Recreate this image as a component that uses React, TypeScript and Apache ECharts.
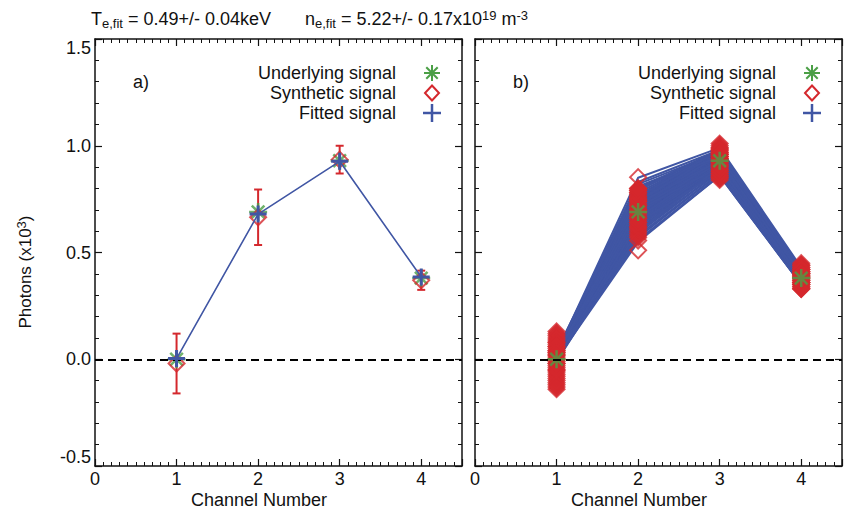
import React, { useEffect, useRef } from 'react';
import * as echarts from 'echarts';

// ---- data -------------------------------------------------------------
const channels = [1, 2, 3, 4];

// panel a) single realisation
const underlying = [0.0, 0.69, 0.93, 0.38];
const syntheticA = [-0.02, 0.665, 0.935, 0.37];
const syntheticErrA = [0.14, 0.13, 0.065, 0.045];
const fittedA = [0.003, 0.68, 0.927, 0.385];

// panel b) Monte-Carlo realisations: fitted signal per channel (one row per run)
const mcFitted = [
  [0.01, 0.70, 0.93, 0.39],
  [0.00, 0.66, 0.92, 0.38],
  [0.02, 0.74, 0.95, 0.40],
  [-0.01, 0.63, 0.90, 0.37],
  [0.01, 0.72, 0.94, 0.40],
  [0.03, 0.78, 0.97, 0.41],
  [0.00, 0.68, 0.91, 0.38],
  [0.02, 0.76, 0.96, 0.41],
  [0.01, 0.61, 0.89, 0.36],
  [0.00, 0.71, 0.94, 0.39],
  [0.04, 0.80, 0.98, 0.42],
  [0.01, 0.65, 0.91, 0.37],
  [0.02, 0.69, 0.93, 0.39],
  [-0.01, 0.59, 0.88, 0.36],
  [0.01, 0.73, 0.95, 0.40],
  [0.02, 0.67, 0.92, 0.38],
  [0.00, 0.75, 0.96, 0.40],
  [0.03, 0.82, 0.97, 0.42],
  [0.01, 0.64, 0.90, 0.37],
  [0.02, 0.70, 0.92, 0.39],
  [0.00, 0.57, 0.87, 0.35],
  [0.01, 0.77, 0.97, 0.41],
  [0.02, 0.62, 0.89, 0.37],
  [0.01, 0.72, 0.93, 0.39],
  [0.03, 0.85, 0.99, 0.43],
  [0.00, 0.55, 0.86, 0.35],
  [0.01, 0.68, 0.93, 0.38],
  [0.02, 0.74, 0.94, 0.40],
  [0.00, 0.66, 0.90, 0.38],
  [0.02, 0.79, 0.98, 0.41],
  [0.01, 0.60, 0.88, 0.36],
  [0.01, 0.71, 0.95, 0.39],
  [0.00, 0.64, 0.91, 0.38],
  [0.02, 0.76, 0.95, 0.40],
  [0.01, 0.69, 0.92, 0.39],
  [0.03, 0.81, 0.96, 0.42],
  [0.01, 0.67, 0.91, 0.38],
  [0.02, 0.73, 0.94, 0.40],
  [0.00, 0.62, 0.90, 0.37],
  [0.03, 0.77, 0.96, 0.41],
  [0.01, 0.70, 0.94, 0.39],
  [0.02, 0.58, 0.87, 0.36],
  [0.00, 0.75, 0.95, 0.40],
  [0.01, 0.65, 0.92, 0.38],
  [0.02, 0.83, 0.98, 0.42],
  [0.01, 0.69, 0.91, 0.39],
  [0.00, 0.72, 0.96, 0.40],
  [0.03, 0.63, 0.89, 0.37],
  [0.01, 0.78, 0.97, 0.41],
  [0.02, 0.66, 0.93, 0.38],
  [0.00, 0.71, 0.92, 0.39],
  [0.01, 0.60, 0.90, 0.36],
  [0.02, 0.74, 0.97, 0.41],
  [0.01, 0.68, 0.94, 0.39],
  [0.03, 0.80, 0.95, 0.42],
  [0.00, 0.64, 0.88, 0.37],
  [0.01, 0.76, 0.98, 0.40],
  [0.02, 0.70, 0.90, 0.38],
  [0.01, 0.56, 0.86, 0.35],
  [0.02, 0.73, 0.93, 0.40],
];

// panel b) synthetic signal per channel
const mcSynthCh1 = [0.02, -0.05, 0.08, -0.11, 0.04, 0.12, -0.02, 0.06, -0.08, 0.0, 0.10, -0.13, 0.03, -0.06, 0.07, -0.03, 0.13, -0.09, 0.01, 0.05, -0.14, 0.09, -0.04, 0.11, -0.07, 0.02, -0.10, 0.06, -0.01, 0.04, -0.12, 0.08, -0.05, 0.03, -0.02, 0.0];
const mcSynthCh2 = [0.70, 0.64, 0.76, 0.60, 0.73, 0.79, 0.67, 0.75, 0.58, 0.71, 0.80, 0.62, 0.69, 0.57, 0.74, 0.66, 0.77, 0.78, 0.63, 0.72, 0.59, 0.76, 0.61, 0.68, 0.80, 0.65, 0.70, 0.74, 0.66, 0.78, 0.62, 0.72, 0.64, 0.75, 0.69, 0.79];
const mcSynthCh3 = [0.93, 0.88, 0.97, 0.85, 0.95, 1.00, 0.90, 0.96, 0.86, 0.92, 0.99, 0.87, 0.94, 0.84, 0.98, 0.91, 1.01, 0.89, 0.93, 0.96, 0.85, 0.97, 0.90, 0.95, 0.88, 0.92, 0.99, 0.86, 0.94, 0.91, 0.98, 0.87, 0.93, 0.95, 0.89, 0.96];
const mcSynthCh4 = [0.38, 0.35, 0.41, 0.33, 0.40, 0.44, 0.36, 0.42, 0.34, 0.39, 0.45, 0.37, 0.40, 0.33, 0.43, 0.36, 0.41, 0.35, 0.38, 0.42, 0.34, 0.39, 0.44, 0.37, 0.40, 0.36, 0.43, 0.35, 0.38, 0.41, 0.33, 0.39, 0.42, 0.37, 0.40, 0.36];
// isolated channel-2 realisations drawn as open diamonds
const mcSynthCh2Isolated = [0.853, 0.556, 0.51];

const legendLabels = ['Underlying signal', 'Synthetic signal', 'Fitted signal'];

// ---- styling ------------------------------------------------------------
const INK = '#111111';
const GREEN = '#4b9f46';
const RED = '#d4282d';
const BLUE = '#4056a4';
const FONT = '"Liberation Sans", Arial, Helvetica, sans-serif';
const FS = 18;

const ASTERISK = 'path://M0,-10L0,10M-10,0L10,0M-7,-7L7,7M-7,7L7,-7';
const PLUS = 'path://M-10,0L10,0M0,-10L0,10';
const DIAMOND = 'path://M0,-10L10,0L0,10L-10,0Z';

const GRID_TOP = 39;
const GRID_H = 427;
const GRID_W = 367;
const PANEL_LEFT = [95, 475];

const xMajor = (gridIndex: number, position: string, showLabels: boolean) => ({
  type: 'value',
  gridIndex,
  position,
  min: 0,
  max: 4.5,
  interval: 1,
  axisLine: { show: true, onZero: false, lineStyle: { color: INK, width: 1.5 } },
  axisTick: { show: true, inside: true, length: 7, lineStyle: { color: INK, width: 1.2 } },
  axisLabel: {
    show: showLabels,
    margin: 4,
    fontSize: FS,
    color: INK,
    fontFamily: FONT,
    formatter: (v: number) => (Number.isInteger(v) ? String(v) : ''),
  },
  splitLine: { show: false },
});

const xMinor = (gridIndex: number, position: string) => ({
  type: 'value',
  gridIndex,
  position,
  min: 0,
  max: 4.5,
  interval: 0.1,
  axisLine: { show: false, onZero: false },
  axisTick: { show: true, inside: true, length: 4, lineStyle: { color: INK, width: 1 } },
  axisLabel: { show: false },
  splitLine: { show: false },
});

const yAxisDef = (gridIndex: number, position: string, showLabels: boolean) => ({
  type: 'value',
  gridIndex,
  position,
  min: -0.5,
  max: 1.5,
  interval: 0.5,
  axisLine: { show: true, onZero: false, lineStyle: { color: INK, width: 1.5 } },
  axisTick: { show: true, inside: true, length: 7, lineStyle: { color: INK, width: 1.2 } },
  minorTick: { show: true, splitNumber: 5, length: 4, lineStyle: { color: INK, width: 1 } },
  axisLabel: {
    show: showLabels,
    margin: 4,
    fontSize: FS,
    color: INK,
    fontFamily: FONT,
    formatter: (v: number) => v.toFixed(1),
    verticalAlignMaxLabel: 'top',
    verticalAlignMinLabel: 'bottom',
  },
  splitLine: { show: false },
  minorSplitLine: { show: false },
});

const zeroLine = (xAxisIndex: number, yAxisIndex: number) => ({
  type: 'line',
  xAxisIndex,
  yAxisIndex,
  data: [],
  z: 1,
  silent: true,
  markLine: {
    silent: true,
    symbol: ['none', 'none'],
    label: { show: false },
    lineStyle: { color: '#000', width: 2, type: [8, 5] },
    data: [{ yAxis: 0 }],
  },
});

// legend glyphs (drawn as plain graphics next to right-aligned labels)
const legendGraphics = (left: number) => {
  const textRight = left + 301;
  const cx = left + 337;
  const rows = [73, 93, 113];
  const els: any[] = [];
  legendLabels.forEach((label, i) => {
    els.push({
      type: 'text',
      x: textRight,
      y: rows[i],
      style: { text: label, fontSize: FS, fontFamily: FONT, fill: INK, align: 'right', verticalAlign: 'middle' },
    });
  });
  const g = { stroke: GREEN, lineWidth: 2 };
  const a = 8, d = 5.7;
  els.push(
    { type: 'line', shape: { x1: cx, y1: rows[0] - a, x2: cx, y2: rows[0] + a }, style: g },
    { type: 'line', shape: { x1: cx - a, y1: rows[0], x2: cx + a, y2: rows[0] }, style: g },
    { type: 'line', shape: { x1: cx - d, y1: rows[0] - d, x2: cx + d, y2: rows[0] + d }, style: g },
    { type: 'line', shape: { x1: cx - d, y1: rows[0] + d, x2: cx + d, y2: rows[0] - d }, style: g },
    {
      type: 'polygon',
      shape: { points: [[cx, rows[1] - 7.5], [cx + 7, rows[1]], [cx, rows[1] + 7.5], [cx - 7, rows[1]]] },
      style: { fill: 'none', stroke: RED, lineWidth: 2 },
    },
    { type: 'line', shape: { x1: cx - 9, y1: rows[2], x2: cx + 9, y2: rows[2] }, style: { stroke: BLUE, lineWidth: 2.5 } },
    { type: 'line', shape: { x1: cx, y1: rows[2] - 9, x2: cx, y2: rows[2] + 9 }, style: { stroke: BLUE, lineWidth: 2.5 } },
  );
  return els;
};

const buildOption = () => {
  const errorBarSeries = {
    type: 'custom',
    xAxisIndex: 0,
    yAxisIndex: 0,
    z: 2,
    silent: true,
    encode: { x: 0, y: [1, 2] },
    data: channels.map((c, i) => [c, syntheticA[i] - syntheticErrA[i], syntheticA[i] + syntheticErrA[i]]),
    renderItem: (_params: any, api: any) => {
      const x = api.value(0);
      const lo = api.coord([x, api.value(1)]);
      const hi = api.coord([x, api.value(2)]);
      const cap = 4;
      const st = { stroke: RED, lineWidth: 2 };
      return {
        type: 'group',
        children: [
          { type: 'line', shape: { x1: lo[0], y1: lo[1], x2: hi[0], y2: hi[1] }, style: st },
          { type: 'line', shape: { x1: lo[0] - cap, y1: lo[1], x2: lo[0] + cap, y2: lo[1] }, style: st },
          { type: 'line', shape: { x1: hi[0] - cap, y1: hi[1], x2: hi[0] + cap, y2: hi[1] }, style: st },
        ],
      };
    },
  };

  const asteriskSeries = (xAxisIndex: number, yAxisIndex: number, z: number) => ({
    type: 'scatter',
    xAxisIndex,
    yAxisIndex,
    z,
    silent: true,
    symbol: ASTERISK,
    symbolSize: 18,
    itemStyle: { color: 'rgba(0,0,0,0)', borderColor: GREEN, borderWidth: 2.5 },
    emphasis: { disabled: true },
    data: channels.map((c, i) => [c, underlying[i]]),
  });

  const series: any[] = [
    // panel a
    zeroLine(0, 0),
    errorBarSeries,
    asteriskSeries(0, 0, 3),
    {
      type: 'scatter',
      xAxisIndex: 0,
      yAxisIndex: 0,
      z: 4,
      silent: true,
      symbol: DIAMOND,
      symbolSize: 16,
      itemStyle: { color: 'rgba(0,0,0,0)', borderColor: RED, borderWidth: 2 },
      emphasis: { disabled: true },
      data: channels.map((c, i) => [c, syntheticA[i]]),
    },
    {
      type: 'line',
      xAxisIndex: 0,
      yAxisIndex: 0,
      z: 5,
      silent: true,
      symbol: PLUS,
      symbolSize: 17,
      showSymbol: true,
      itemStyle: { color: 'rgba(0,0,0,0)', borderColor: BLUE, borderWidth: 3 },
      lineStyle: { color: BLUE, width: 1.6 },
      emphasis: { disabled: true },
      data: channels.map((c, i) => [c, fittedA[i]]),
    },
    // panel b
    zeroLine(4, 2),
  ];

  mcFitted.forEach((row) => {
    series.push({
      type: 'line',
      xAxisIndex: 4,
      yAxisIndex: 2,
      z: 2,
      silent: true,
      showSymbol: false,
      symbol: 'none',
      lineStyle: { color: BLUE, width: 2 },
      emphasis: { disabled: true },
      data: channels.map((c, i) => [c, row[i]]),
    });
  });

  const synthByChannel = [mcSynthCh1, mcSynthCh2, mcSynthCh3, mcSynthCh4];
  series.push({
    type: 'scatter',
    xAxisIndex: 4,
    yAxisIndex: 2,
    z: 3,
    silent: true,
    symbol: DIAMOND,
    symbolSize: 16,
    itemStyle: { color: RED, borderColor: RED, borderWidth: 2 },
    emphasis: { disabled: true },
    data: synthByChannel.flatMap((vals, i) => vals.map((v) => [channels[i], v])),
  });
  series.push({
    type: 'scatter',
    xAxisIndex: 4,
    yAxisIndex: 2,
    z: 3,
    silent: true,
    symbol: DIAMOND,
    symbolSize: 16,
    itemStyle: { color: 'rgba(0,0,0,0)', borderColor: RED, borderWidth: 2 },
    emphasis: { disabled: true },
    data: mcSynthCh2Isolated.map((v) => [2, v]),
  });
  series.push(asteriskSeries(4, 2, 4));

  const sub = { fontSize: 13, fontFamily: FONT, fill: INK, verticalAlign: 'bottom', lineHeight: 10 };
  const sup = { fontSize: 13, fontFamily: FONT, fill: INK, verticalAlign: 'top', lineHeight: 10 };
  const main = { fontSize: FS, fontFamily: FONT, fill: INK, lineHeight: 21 };

  const graphic: any[] = [
    {
      type: 'text',
      x: 91,
      y: 19,
      style: {
        text: '{m|T}{s|e,fit}{m| = 0.49+/- 0.04keV}',
        rich: { m: main, s: sub },
        verticalAlign: 'middle',
        align: 'left',
      },
    },
    {
      type: 'text',
      x: 305,
      y: 19,
      style: {
        text: '{m|n}{s|e,fit}{m| = 5.22+/- 0.17x10}{p|19}{m| m}{p|-3}',
        rich: { m: main, s: sub, p: sup },
        verticalAlign: 'middle',
        align: 'left',
      },
    },
    {
      type: 'text',
      x: 25,
      y: 272,
      rotation: Math.PI / 2,
      style: {
        text: '{m|Photons (x10}{p|3}{m|)}',
        rich: { m: { ...main, fontSize: 17 }, p: sup },
        align: 'center',
        verticalAlign: 'middle',
      },
    },
    { type: 'text', x: 133, y: 82, style: { text: 'a)', fontSize: FS, fontFamily: FONT, fill: INK, verticalAlign: 'middle' } },
    { type: 'text', x: 513, y: 82, style: { text: 'b)', fontSize: FS, fontFamily: FONT, fill: INK, verticalAlign: 'middle' } },
    { type: 'text', x: 259, y: 500, style: { text: 'Channel Number', fontSize: FS, fontFamily: FONT, fill: INK, align: 'center', verticalAlign: 'middle' } },
    { type: 'text', x: 639, y: 500, style: { text: 'Channel Number', fontSize: FS, fontFamily: FONT, fill: INK, align: 'center', verticalAlign: 'middle' } },
    ...legendGraphics(PANEL_LEFT[0]),
    ...legendGraphics(PANEL_LEFT[1]),
  ];

  return {
    animation: false,
    backgroundColor: '#ffffff',
    textStyle: { fontFamily: FONT },
    grid: PANEL_LEFT.map((left) => ({ left, top: GRID_TOP, width: GRID_W, height: GRID_H, containLabel: false })),
    xAxis: [
      xMajor(0, 'bottom', true),
      xMinor(0, 'bottom'),
      xMajor(0, 'top', false),
      xMinor(0, 'top'),
      xMajor(1, 'bottom', true),
      xMinor(1, 'bottom'),
      xMajor(1, 'top', false),
      xMinor(1, 'top'),
    ],
    yAxis: [
      yAxisDef(0, 'left', true),
      yAxisDef(0, 'right', false),
      yAxisDef(1, 'left', false),
      yAxisDef(1, 'right', false),
    ],
    series,
    graphic,
  };
};

export default function App() {
  const ref = useRef<HTMLDivElement>(null);
  useEffect(() => {
    if (!ref.current) return;
    const chart = echarts.init(ref.current, null, { renderer: 'svg' });
    chart.setOption(buildOption() as any);
    return () => chart.dispose();
  }, []);
  return (
    <div
      ref={ref}
      style={{ position: 'fixed', left: 0, top: 0, width: 847, height: 514, background: '#fff' }}
    />
  );
}
